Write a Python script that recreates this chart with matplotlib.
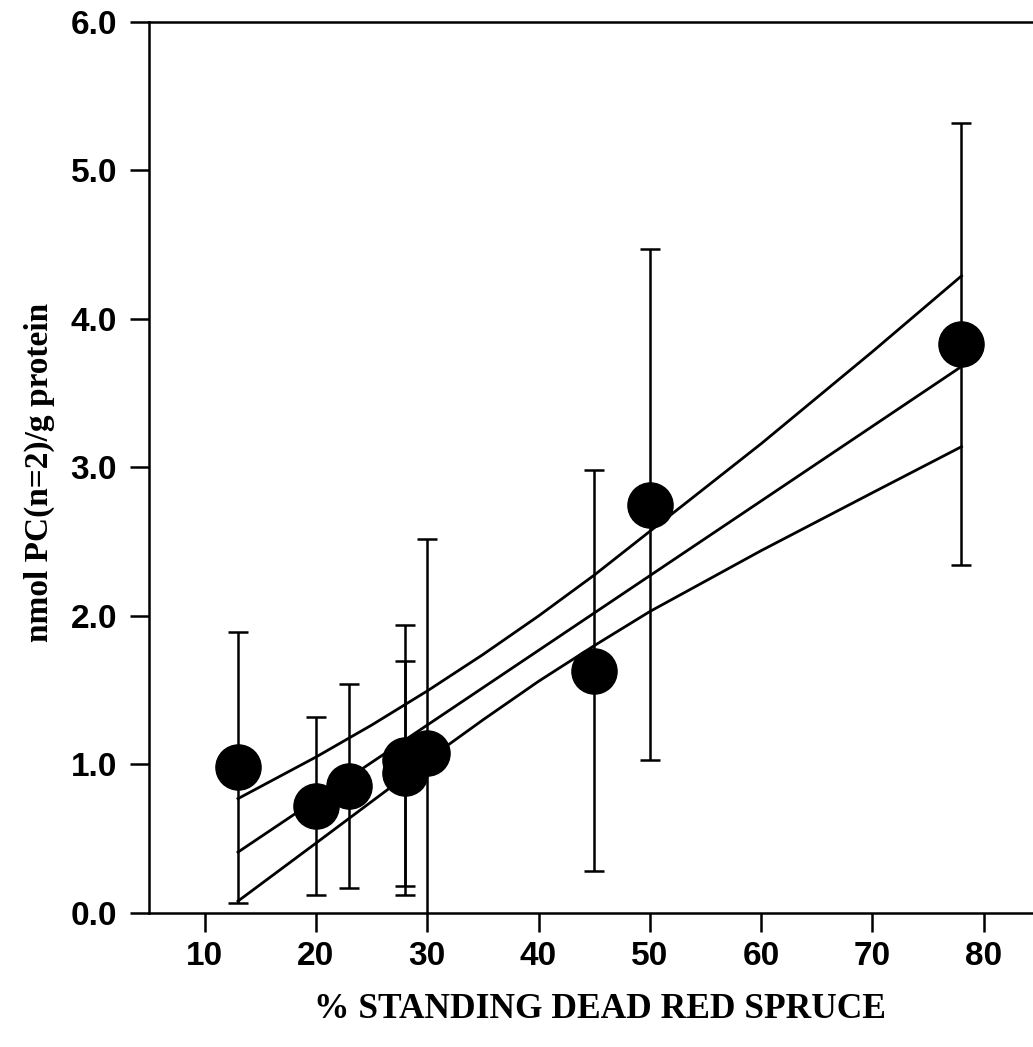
import matplotlib
matplotlib.use("Agg")
import matplotlib.pyplot as plt

# data
pct_dead = [13, 20, 23, 28, 28, 30, 45, 50, 78]
pc_mean = [0.98, 0.72, 0.855, 1.03, 0.94, 1.08, 1.63, 2.75, 3.83]
pc_err = [0.91, 0.60, 0.69, 0.91, 0.76, 1.44, 1.35, 1.72, 1.49]

fit_x = [13, 78]
fit_y = [0.41, 3.68]

# confidence band at a few x positions
ci_x = [13, 20, 25, 30, 35, 40, 45, 50, 60, 70, 78]
ci_upper = [0.77, 1.05, 1.265, 1.495, 1.74, 2.00, 2.275, 2.57, 3.16, 3.78, 4.29]
ci_lower = [0.08, 0.47, 0.75, 1.03, 1.30, 1.56, 1.80, 2.03, 2.44, 2.83, 3.14]

xticks = [10, 20, 30, 40, 50, 60, 70, 80]
yticks = [0.0, 1.0, 2.0, 3.0, 4.0, 5.0, 6.0]

fig = plt.figure(figsize=(10.33, 10.47), dpi=100)
ax = fig.add_axes([0.1442, 0.128, 0.862, 0.851])

ax.plot(fit_x, fit_y, color="black", lw=2.0, zorder=2)
ax.plot(ci_x, ci_upper, color="black", lw=2.0, zorder=2)
ax.plot(ci_x, ci_lower, color="black", lw=2.0, zorder=2)

ax.errorbar(pct_dead, pc_mean, yerr=pc_err, fmt="o", color="black",
            ms=32.5, ecolor="black", elinewidth=1.8, capsize=7, capthick=1.8,
            zorder=3)

ax.set_xlim(5, 85)
ax.set_ylim(0, 6)
ax.set_xticks(xticks)
ax.set_yticks(yticks)
ax.set_yticklabels(["%.1f" % v for v in yticks])

for lab in ax.get_xticklabels() + ax.get_yticklabels():
    lab.set_family(["Liberation Sans", "DejaVu Sans"])
    lab.set_fontsize(24)
    lab.set_fontweight("bold")

ax.tick_params(direction="out", length=14, width=1.8, pad=6)
ax.tick_params(axis="y", pad=9)
ax.spines["right"].set_visible(False)
for s in ["left", "bottom", "top"]:
    ax.spines[s].set_linewidth(1.8)

serif = ["Liberation Serif", "DejaVu Serif"]
ax.set_xlabel("% STANDING DEAD RED SPRUCE", family=serif,
              fontsize=25.5, fontweight="bold")
ax.set_ylabel("nmol PC(n=2)/g protein", family=serif,
              fontsize=24, fontweight="bold")
ax.xaxis.set_label_coords(0.507, -0.09)
ax.yaxis.set_label_coords(-0.106, 0.495)

fig.savefig("out.png", dpi=100)
